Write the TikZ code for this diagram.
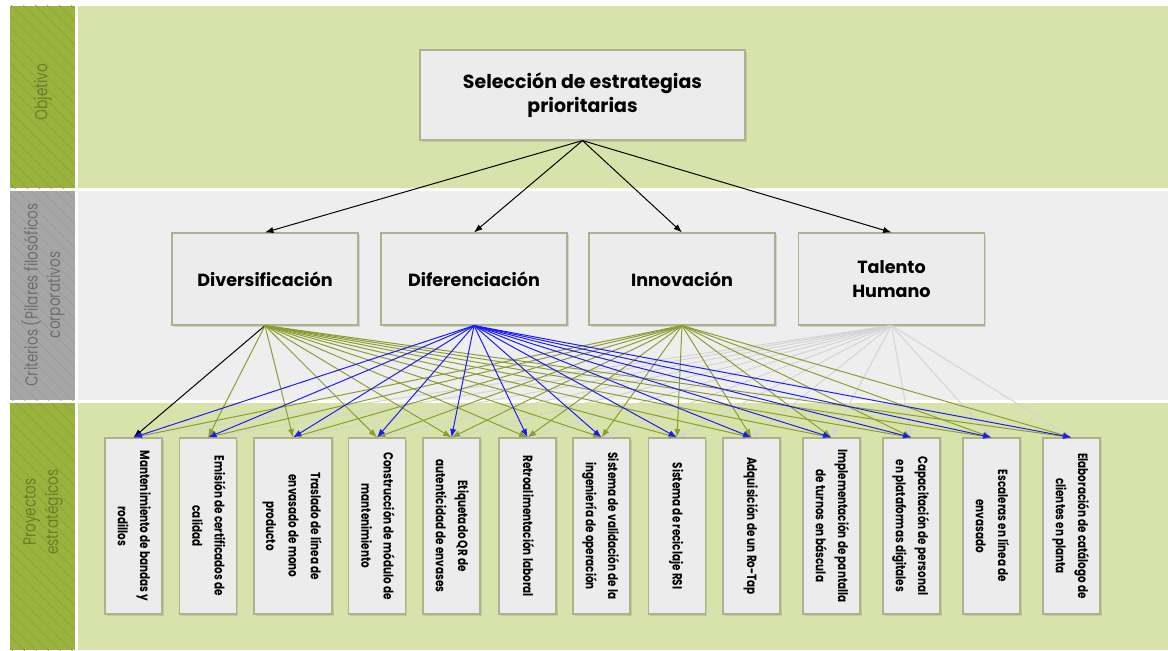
\documentclass[tikz,border=0pt]{standalone}
\usepackage{fontspec}
\setmainfont{Poppins}
\newfontfamily\etroite[FakeStretch=0.78]{Poppins}
\usetikzlibrary{arrows.meta,shadows,patterns.meta}

\definecolor{vertclair}{HTML}{D7E3AA}
\definecolor{vertfonce}{HTML}{9AB33E}
\definecolor{grisclair}{HTML}{EEEEEE}
\definecolor{grisbande}{HTML}{A6A6A6}
\definecolor{fondboite}{HTML}{ECECEC}
\definecolor{bordboite}{HTML}{ADB28A}
\definecolor{vertfleche}{HTML}{8A9D2E}
\definecolor{bleufleche}{HTML}{1A1AFF}
\definecolor{grisfleche}{HTML}{D4D4D4}
\definecolor{textevert}{HTML}{66802A}
\definecolor{textegris}{HTML}{6E6E6E}

\newcommand\vtxt[1]{\rotatebox{-90}{\renewcommand\arraystretch{1.45}\begin{tabular}{@{}c@{}}#1\end{tabular}}}

\tikzset{
  boite/.style={draw=bordboite, line width=0.8pt, fill=fondboite, inner sep=0pt, align=center,
    drop shadow={opacity=0.25, shadow xshift=1.2pt, shadow yshift=-1.2pt}},
  fleche/.style={-{Latex[length=6pt,width=4.5pt]}, line width=0.7pt},
  hachure/.style={pattern={Lines[angle=-45,distance=6pt,line width=0.4pt]}, pattern color=#1},
  bande/.style={rotate=90, align=center, font=\etroite\fontsize{12.5}{16}\selectfont}
}

\begin{document}
\begin{tikzpicture}[x=0.025cm, y=-0.025cm]
  \useasboundingbox (0,0) rectangle (1168,650);

  % Dessinez les bandes de fond
  \fill[vertclair] (78,6) rectangle (1168,188);
  \fill[grisclair] (78,191) rectangle (1168,400);
  \fill[vertclair] (78,403) rectangle (1168,650);
  \fill[vertfonce] (10,6) rectangle (75,188);
  \fill[grisbande] (10,191) rectangle (75,400);
  \fill[vertfonce] (10,403) rectangle (75,650);
  \path[hachure=vertfonce!90!black] (10,6) rectangle (75,188);
  \path[hachure=grisbande!92!black] (10,191) rectangle (75,400);
  \path[hachure=vertfonce!90!black] (10,403) rectangle (75,650);

  % Ajoutez les titres des bandes
  \node[bande, text=textevert] (lobj) at (43,92) {Objetivo};
  \node[bande, text=textegris] (lcrit) at (43,295) {Criterios (Pilares filosóficos\\corporativos};
  \node[bande, text=textevert] (lproj) at (43,512) {Proyectos\\estratégicos};

  % Ajoutez l'objectif
  \node[boite, minimum width=8.125cm, minimum height=2.25cm,
    font=\fontsize{13.5}{17}\selectfont\bfseries] (obj) at (582.5,95)
    {Selección de estrategias\\prioritarias};

  % Ajoutez les critères
  \foreach \n/\x/\txt in {div/265/Diversificación, dif/474/Diferenciación,
      inn/682/Innovación, tal/891.5/{Talento\\Humano}} {
    \node[boite, minimum width=4.65cm, minimum height=2.3cm,
      font=\fontsize{12.5}{17}\selectfont\bfseries] (\n) at (\x,279) {\txt};
  }

  % Ajoutez les projets
  \foreach \i/\x/\w/\txt in {
      1/133.5/1.425/{Mantenimiento de bandas y\\rodillos},
      2/208/1.425/{Emisión de certificados de\\calidad},
      3/293/1.95/{Traslado de línea de\\envasado de mono\\producto},
      4/377/1.425/{Construcción de módulo de\\mantenimiento},
      5/451.5/1.425/{Etiquetado QR de\\autenticidad de envases},
      6/527.5/1.425/{Retroalimentación laboral},
      7/601.5/1.425/{Sistema de validación de la\\ingeniería de operación},
      8/677/1.425/{Sistema de reciclaje RSI},
      9/751.5/1.425/{Adquisición de un Ro-Tap},
      10/831.5/1.425/{Implementación de pantalla\\de turnos en báscula},
      11/911.5/1.425/{Capacitación de personal\\en plataformas digitales},
      12/991.5/1.425/{Escaleras en línea de\\envasado},
      13/1071.5/1.425/{Elaboración de catálogo de\\clientes en planta}} {
    \node[boite, minimum width=\w cm, minimum height=4.4cm,
      font=\etroite\fontsize{9.5}{11}\selectfont\bfseries] (p\i) at (\x,526) {\vtxt{\txt}};
  }

  % Dessinez les flèches de l'objectif
  \foreach \n in {div,dif,inn,tal} {
    \draw[fleche] (obj.south) -- (\n.north);
  }

  % Dessinez les flèches des critères
  \foreach \i in {1,...,13} {
    \draw[fleche, grisfleche] (tal.south) -- (p\i.north);
  }
  \draw[fleche] (div.south) -- (p1.north);
  \foreach \i in {2,...,13} {
    \draw[fleche, vertfleche] (div.south) -- (p\i.north);
  }
  \foreach \i in {1,...,13} {
    \draw[fleche, vertfleche] (inn.south) -- (p\i.north);
  }
  \foreach \i in {1,...,13} {
    \draw[fleche, bleufleche] (dif.south) -- (p\i.north);
  }
\end{tikzpicture}
\end{document}
